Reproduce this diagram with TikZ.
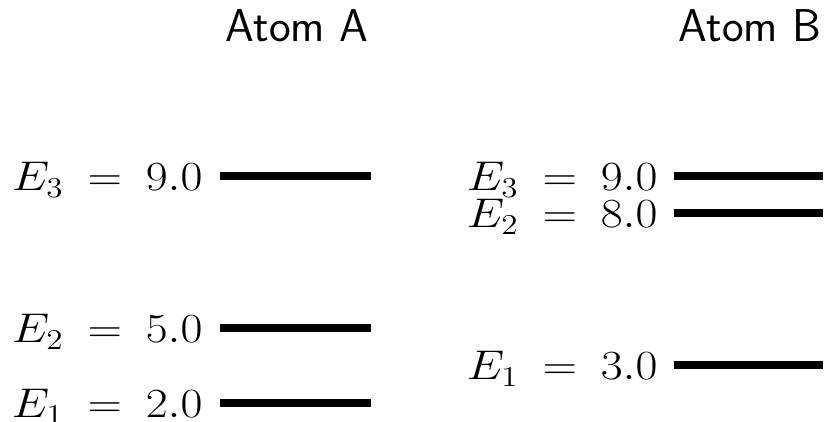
\documentclass[tikz,border=0pt]{standalone}
\usepackage{tikz}
\usetikzlibrary{positioning}
\newcommand{\elvl}[2]{\scalebox{1.15}[1]{$\thickmuskip=9mu E_{#1} = #2$}}
\tikzset{
  lvl/.style={line width=3.75pt},
  elab/.style={anchor=base east, inner sep=0pt, font=\fontsize{22.5}{27}\selectfont},
  ttl/.style={anchor=base, inner sep=0pt, font=\fontsize{23}{28}\selectfont\sffamily},
  levels/.style={x=0.5pt, y=-0.5pt}
}
\begin{document}
\begin{tikzpicture}[levels]
  \useasboundingbox (0,0) rectangle (827,422);
  \node[ttl] (ttlA) at (297,42) {Atom A};
  \node[ttl] (ttlB) at (750,42) {Atom B};
  \foreach \n/\y/\v in {3/176/9.0, 2/328/5.0, 1/403/2.0}{
    \coordinate (a\n l) at (220,\y);
    \coordinate (a\n r) at (371,\y);
    \draw[lvl] (a\n l) -- (a\n r);
    \node[elab] (a\n) at ({203},{\y+15}) {\elvl{\n}{\v}};
  }
  \foreach \n/\y/\v in {3/176/9.0, 2/213/8.0, 1/365/3.0}{
    \coordinate (b\n l) at (674,\y);
    \coordinate (b\n r) at (823,\y);
    \draw[lvl] (b\n l) -- (b\n r);
    \node[elab] (b\n) at ({658},{\y+15}) {\elvl{\n}{\v}};
  }
\end{tikzpicture}
\end{document}
